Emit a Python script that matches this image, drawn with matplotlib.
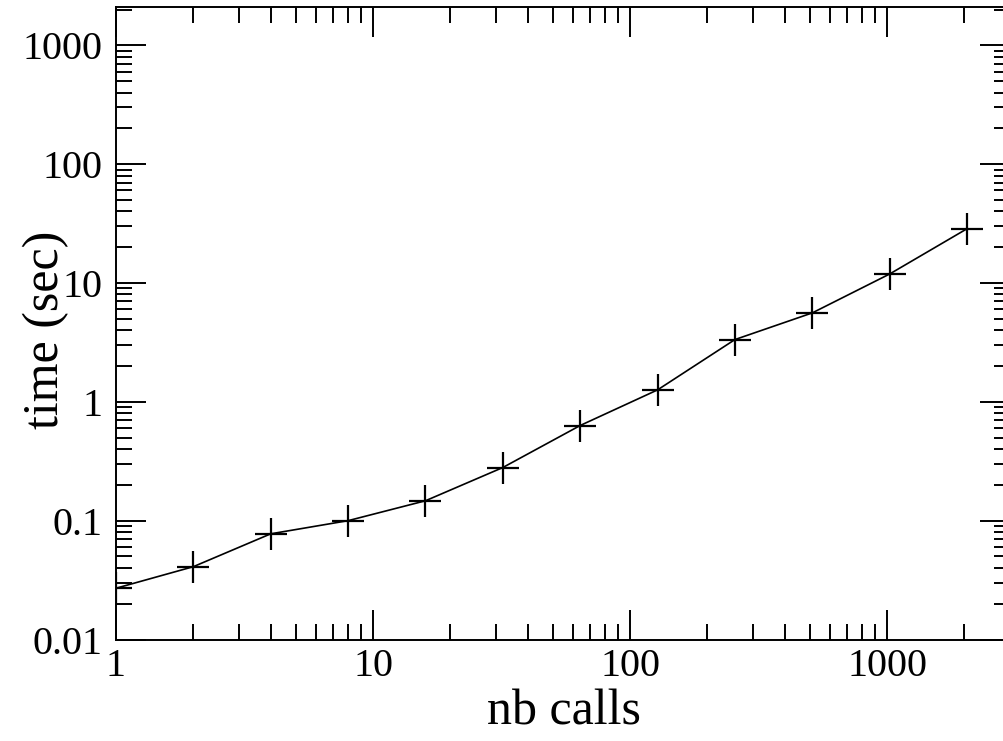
import numpy as np
import matplotlib
matplotlib.use("Agg")
import matplotlib.pyplot as plt
from matplotlib.ticker import FixedLocator, FuncFormatter, NullFormatter

plt.rcParams['font.family'] = ['Liberation Serif', 'DejaVu Serif']

nb_calls = [1, 2, 4, 8, 16, 32, 64, 128, 256, 512, 1024, 2048]
times = [0.027, 0.041, 0.0775, 0.1, 0.147, 0.28, 0.632, 1.26, 3.34, 5.6, 11.9, 28.6]

x_ticks = [1, 10, 100, 1000]
y_ticks = [0.01, 0.1, 1, 10, 100, 1000]

W, H = 1004, 741
fig = plt.figure(figsize=(W / 100, H / 100), dpi=100)
left, right, top, bottom = 116, 1010, 7, 639.5
ax = fig.add_axes([left / W, (H - bottom) / H, (right - left) / W, (bottom - top) / H])

ax.plot(nb_calls, times, color="black", linewidth=1.2,
        marker="+", markersize=23, markeredgewidth=1.6)

ax.set_xscale("log")
ax.set_yscale("log")
ax.set_xlim(1, 3010)
ax.set_ylim(0.01, 2100)

fmt = FuncFormatter(lambda v, p: "%g" % v)
ax.xaxis.set_major_locator(FixedLocator(x_ticks))
ax.yaxis.set_major_locator(FixedLocator(y_ticks))
ax.xaxis.set_major_formatter(fmt)
ax.yaxis.set_major_formatter(fmt)
ax.xaxis.set_minor_formatter(NullFormatter())
ax.yaxis.set_minor_formatter(NullFormatter())

ax.tick_params(which="both", direction="in", top=True, right=True, width=1.4)
ax.tick_params(which="major", length=21.5, labelsize=29)
ax.tick_params(axis="x", which="major", pad=6)
ax.tick_params(axis="y", which="major", pad=10)
ax.tick_params(which="minor", length=11.5)
for s in ax.spines.values():
    s.set_linewidth(1.4)

ax.set_xlabel("nb calls", fontsize=36)
ax.set_ylabel("time (sec)", fontsize=36)
ax.xaxis.set_label_coords((564 - left) / (right - left), -(689 - bottom) / (bottom - top))
ax.yaxis.set_label_coords((69 - left) / (right - left), 0.49)

fig.savefig("out.png", dpi=100)
